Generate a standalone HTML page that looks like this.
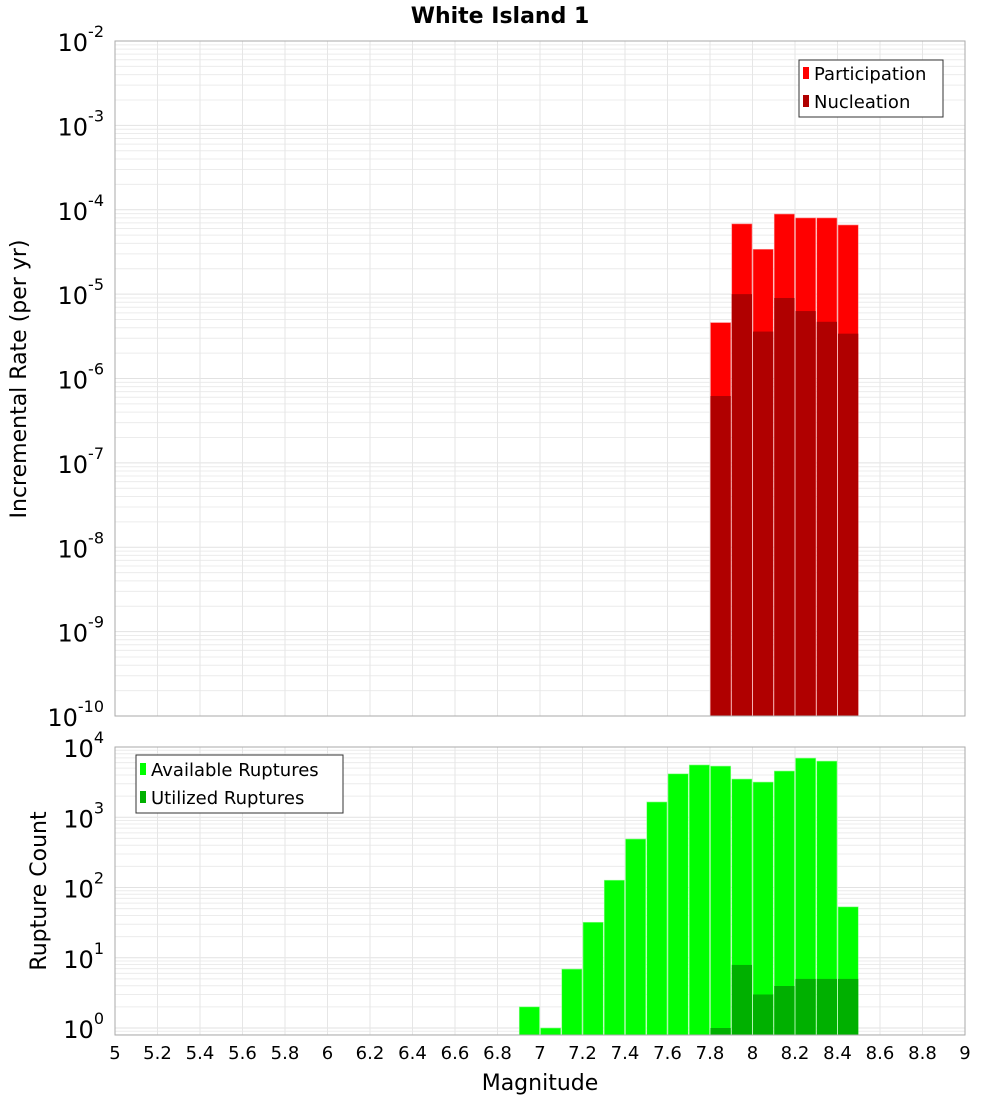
<!DOCTYPE html>
<html><head><meta charset="utf-8"><style>
html,body{margin:0;padding:0;background:#fff}
svg{display:block;font-family:"DejaVu Sans","Liberation Sans",sans-serif}
</style></head><body>
<svg id="chart" width="1000" height="1100" xmlns="http://www.w3.org/2000/svg">
<text x="500" y="23" text-anchor="middle" font-size="22" font-weight="bold">White Island 1</text>
<g id="gtop"></g>
<g id="gbot"></g>
<text transform="translate(26,379) rotate(-90)" text-anchor="middle" font-size="22">Incremental Rate (per yr)</text>
<text transform="translate(46,891) rotate(-90)" text-anchor="middle" font-size="22">Rupture Count</text>
<text x="540" y="1090" text-anchor="middle" font-size="22">Magnitude</text>
<g>
<rect x="799" y="60" width="144" height="57" fill="#fff" stroke="#333"/>
<rect x="803" y="67" width="6" height="12" fill="#ff0000"/>
<text x="814" y="80" font-size="18">Participation</text>
<rect x="803" y="95" width="6" height="12" fill="#b00000"/>
<text x="814" y="108" font-size="18">Nucleation</text>
</g>
<g>
<rect x="136" y="755" width="207" height="58" fill="#fff" stroke="#333"/>
<rect x="140" y="763" width="6" height="12" fill="#00ff00"/>
<text x="151" y="776" font-size="18">Available Ruptures</text>
<rect x="140" y="791" width="6" height="12" fill="#00b000"/>
<text x="151" y="804" font-size="18">Utilized Ruptures</text>
</g>
</svg>
<script>
const mags = [7.85,7.95,8.05,8.15,8.25,8.35,8.45];
const participation = [4.6e-6,6.8e-5,3.4e-5,8.9e-5,8.0e-5,8.0e-5,6.6e-5];
const nucleation = [6.2e-7,1.0e-5,3.6e-6,9.0e-6,6.3e-6,4.7e-6,3.4e-6];
const countMags = [6.95,7.05,7.15,7.25,7.35,7.45,7.55,7.65,7.75,7.85,7.95,8.05,8.15,8.25,8.35,8.45];
const available = [2,1,6.9,32,127,490,1650,4150,5550,5350,3500,3170,4550,6950,6300,53];
const utilized = [0,0,0,0,0,0,0,0,0,1,7.9,3.0,3.96,5,5,5];
const xTicks = [5,5.2,5.4,5.6,5.8,6,6.2,6.4,6.6,6.8,7,7.2,7.4,7.6,7.8,8,8.2,8.4,8.6,8.8,9];
const rateExps = [-2,-3,-4,-5,-6,-7,-8,-9,-10];
const countExps = [4,3,2,1,0];

const NS='http://www.w3.org/2000/svg';
const X0=115,X1=965;
const xs=m=>X0+(m-5)/4*(X1-X0);
function mk(p,t,a){const e=document.createElementNS(NS,t);for(const k in a)e.setAttribute(k,a[k]);p.appendChild(e);return e;}
const topY=v=>41+(-2-Math.log10(v))*84.375;
const botY=v=>1028-Math.log10(v)*70.25;

function panel(g,yT,yB,ys,lo,hi,exps,name){
  mk(g,'rect',{x:X0,y:yT,width:X1-X0,height:yB-yT,fill:'#fff'});
  for(let e=lo;e<hi;e++)for(let k=1;k<10;k++){const v=k*Math.pow(10,e);const y=ys(v);if(y<yT||y>yB)continue;
    const l=mk(g,'line',{x1:X0,x2:X1,y1:y,y2:y,stroke:k==1?'#e2e2e2':'#ececec','stroke-width':1});
    
    }
  xTicks.forEach(t=>{const l=mk(g,'line',{x1:xs(t),x2:xs(t),y1:yT,y2:yB,stroke:'#e6e6e6'});
    
    });
  exps.forEach(e=>{const y=ys(Math.pow(10,e));const t=mk(g,'text',{x:104,y:y+10,'text-anchor':'end','font-size':24});
    
    
    t.textContent='10';const s=mk(t,'tspan',{dy:-14,'font-size':16});s.textContent=String(e);});
}
const gTop=document.getElementById('gtop'),gBot=document.getElementById('gbot');
panel(gTop,41,716,topY,-10,-1,rateExps,'rate');
panel(gBot,747,1035,botY,-1,5,countExps,'count');
const bw=21.25;
mags.forEach((m,i)=>{
  const x=xs(m)-bw/2;
  let r=mk(gTop,'rect',{x:x+0.5,y:topY(participation[i]),width:bw-1,height:716-topY(participation[i]),fill:'#ff0000',stroke:'#ff9090','stroke-width':0.6});
  
  
  r=mk(gTop,'rect',{x:x+0.5,y:topY(nucleation[i]),width:bw-1,height:716-topY(nucleation[i]),fill:'#b00000'});
  
  
});
countMags.forEach((m,i)=>{
  const x=xs(m)-bw/2;
  let r=mk(gBot,'rect',{x:x+0.5,y:botY(available[i]),width:bw-1,height:1035-botY(available[i]),fill:'#00ff00',stroke:'#90ff90','stroke-width':0.6});
  
  
  if(utilized[i]>0){r=mk(gBot,'rect',{x:x+0.5,y:botY(utilized[i]),width:bw-1,height:1035-botY(utilized[i]),fill:'#00b000'});
  
  }
});
mk(gTop,'rect',{x:X0,y:41,width:X1-X0,height:675,fill:'none',stroke:'#aaa'});
mk(gBot,'rect',{x:X0,y:747,width:X1-X0,height:288,fill:'none',stroke:'#aaa'});
xTicks.forEach(t=>{const e=mk(gBot,'text',{x:xs(t),y:1059,'text-anchor':'middle','font-size':18});
  
  
  e.textContent=String(t);});
</script>
</body></html>
